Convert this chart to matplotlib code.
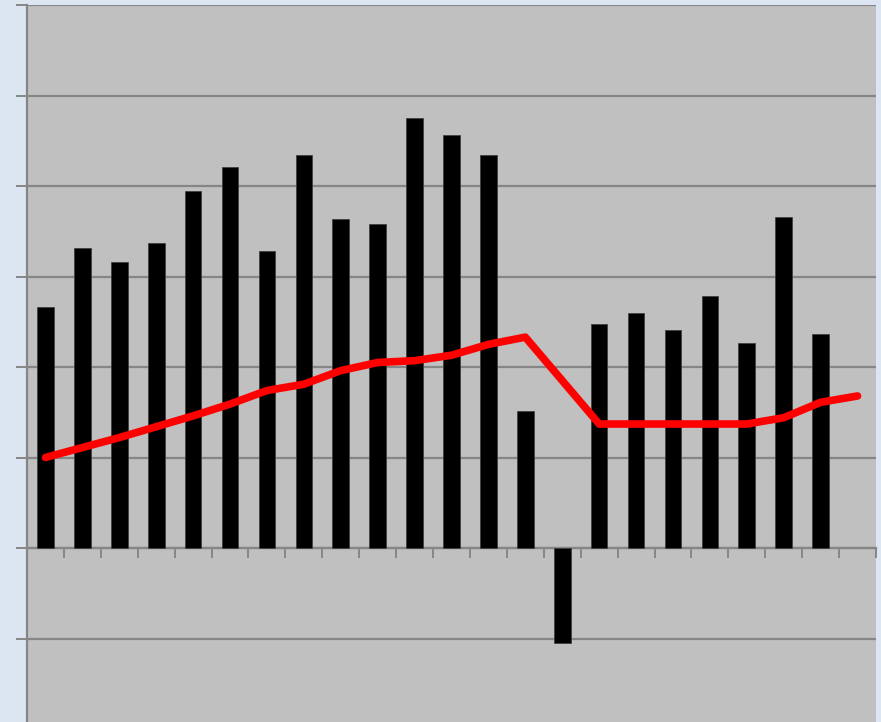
import numpy as np
import matplotlib.pyplot as plt

# one bar and one line point per period (23 periods, last has no bar)
periods = np.arange(23)
bar_vals = [2.66, 3.32, 3.16, 3.37, 3.94, 4.21, 3.28, 4.34, 3.64, 3.58, 4.75, 4.56,
            4.34, 1.51, -1.05, 2.48, 2.60, 2.41, 2.78, 2.26, 3.66, 2.36, np.nan]
line_vals = [1.00, 1.11, 1.22, 1.34, 1.46, 1.59, 1.74, 1.81, 1.96, 2.05, 2.07, 2.13,
             2.25, 2.33, 1.85, 1.37, 1.37, 1.37, 1.37, 1.37, 1.44, 1.61, 1.68]

grid_col = '#868686'

fig = plt.figure(figsize=(8.81, 7.22), dpi=100)
fig.patch.set_facecolor('#dce6f2')
ax = fig.add_axes([27/881, (722-729)/722, (876-27)/881, 724/722])
ax.set_facecolor('#c0c0c0')

ax.bar(periods, bar_vals, width=0.45, color='black', edgecolor='#404040', linewidth=0.6, zorder=3)
ax.plot(periods, line_vals, color='#ff0000', lw=5.5, solid_capstyle='round',
        solid_joinstyle='round', zorder=4)

ax.set_xlim(-0.5, 22.5)
ax.set_ylim(-2, 6)
ax.set_yticks(np.arange(-2, 7, 1))
ax.set_xticks(np.arange(-0.5, 23, 1))
ax.set_xticklabels([])
ax.set_yticklabels([])
ax.yaxis.grid(True, color=grid_col, lw=1.6, zorder=1)
ax.set_axisbelow(True)

for s in ['top', 'right']:
    ax.spines[s].set_visible(False)
ax.spines['left'].set_color(grid_col)
ax.spines['left'].set_linewidth(1.6)
ax.spines['bottom'].set_position(('data', 0))
ax.spines['bottom'].set_color(grid_col)
ax.spines['bottom'].set_linewidth(1.6)
ax.spines['bottom'].set_zorder(2)
ax.tick_params(axis='x', direction='out', length=7.5, width=1.4, color=grid_col)
ax.tick_params(axis='y', direction='out', length=8, width=1.4, color=grid_col)

plt.savefig('out.png', dpi=100, facecolor=fig.get_facecolor())
